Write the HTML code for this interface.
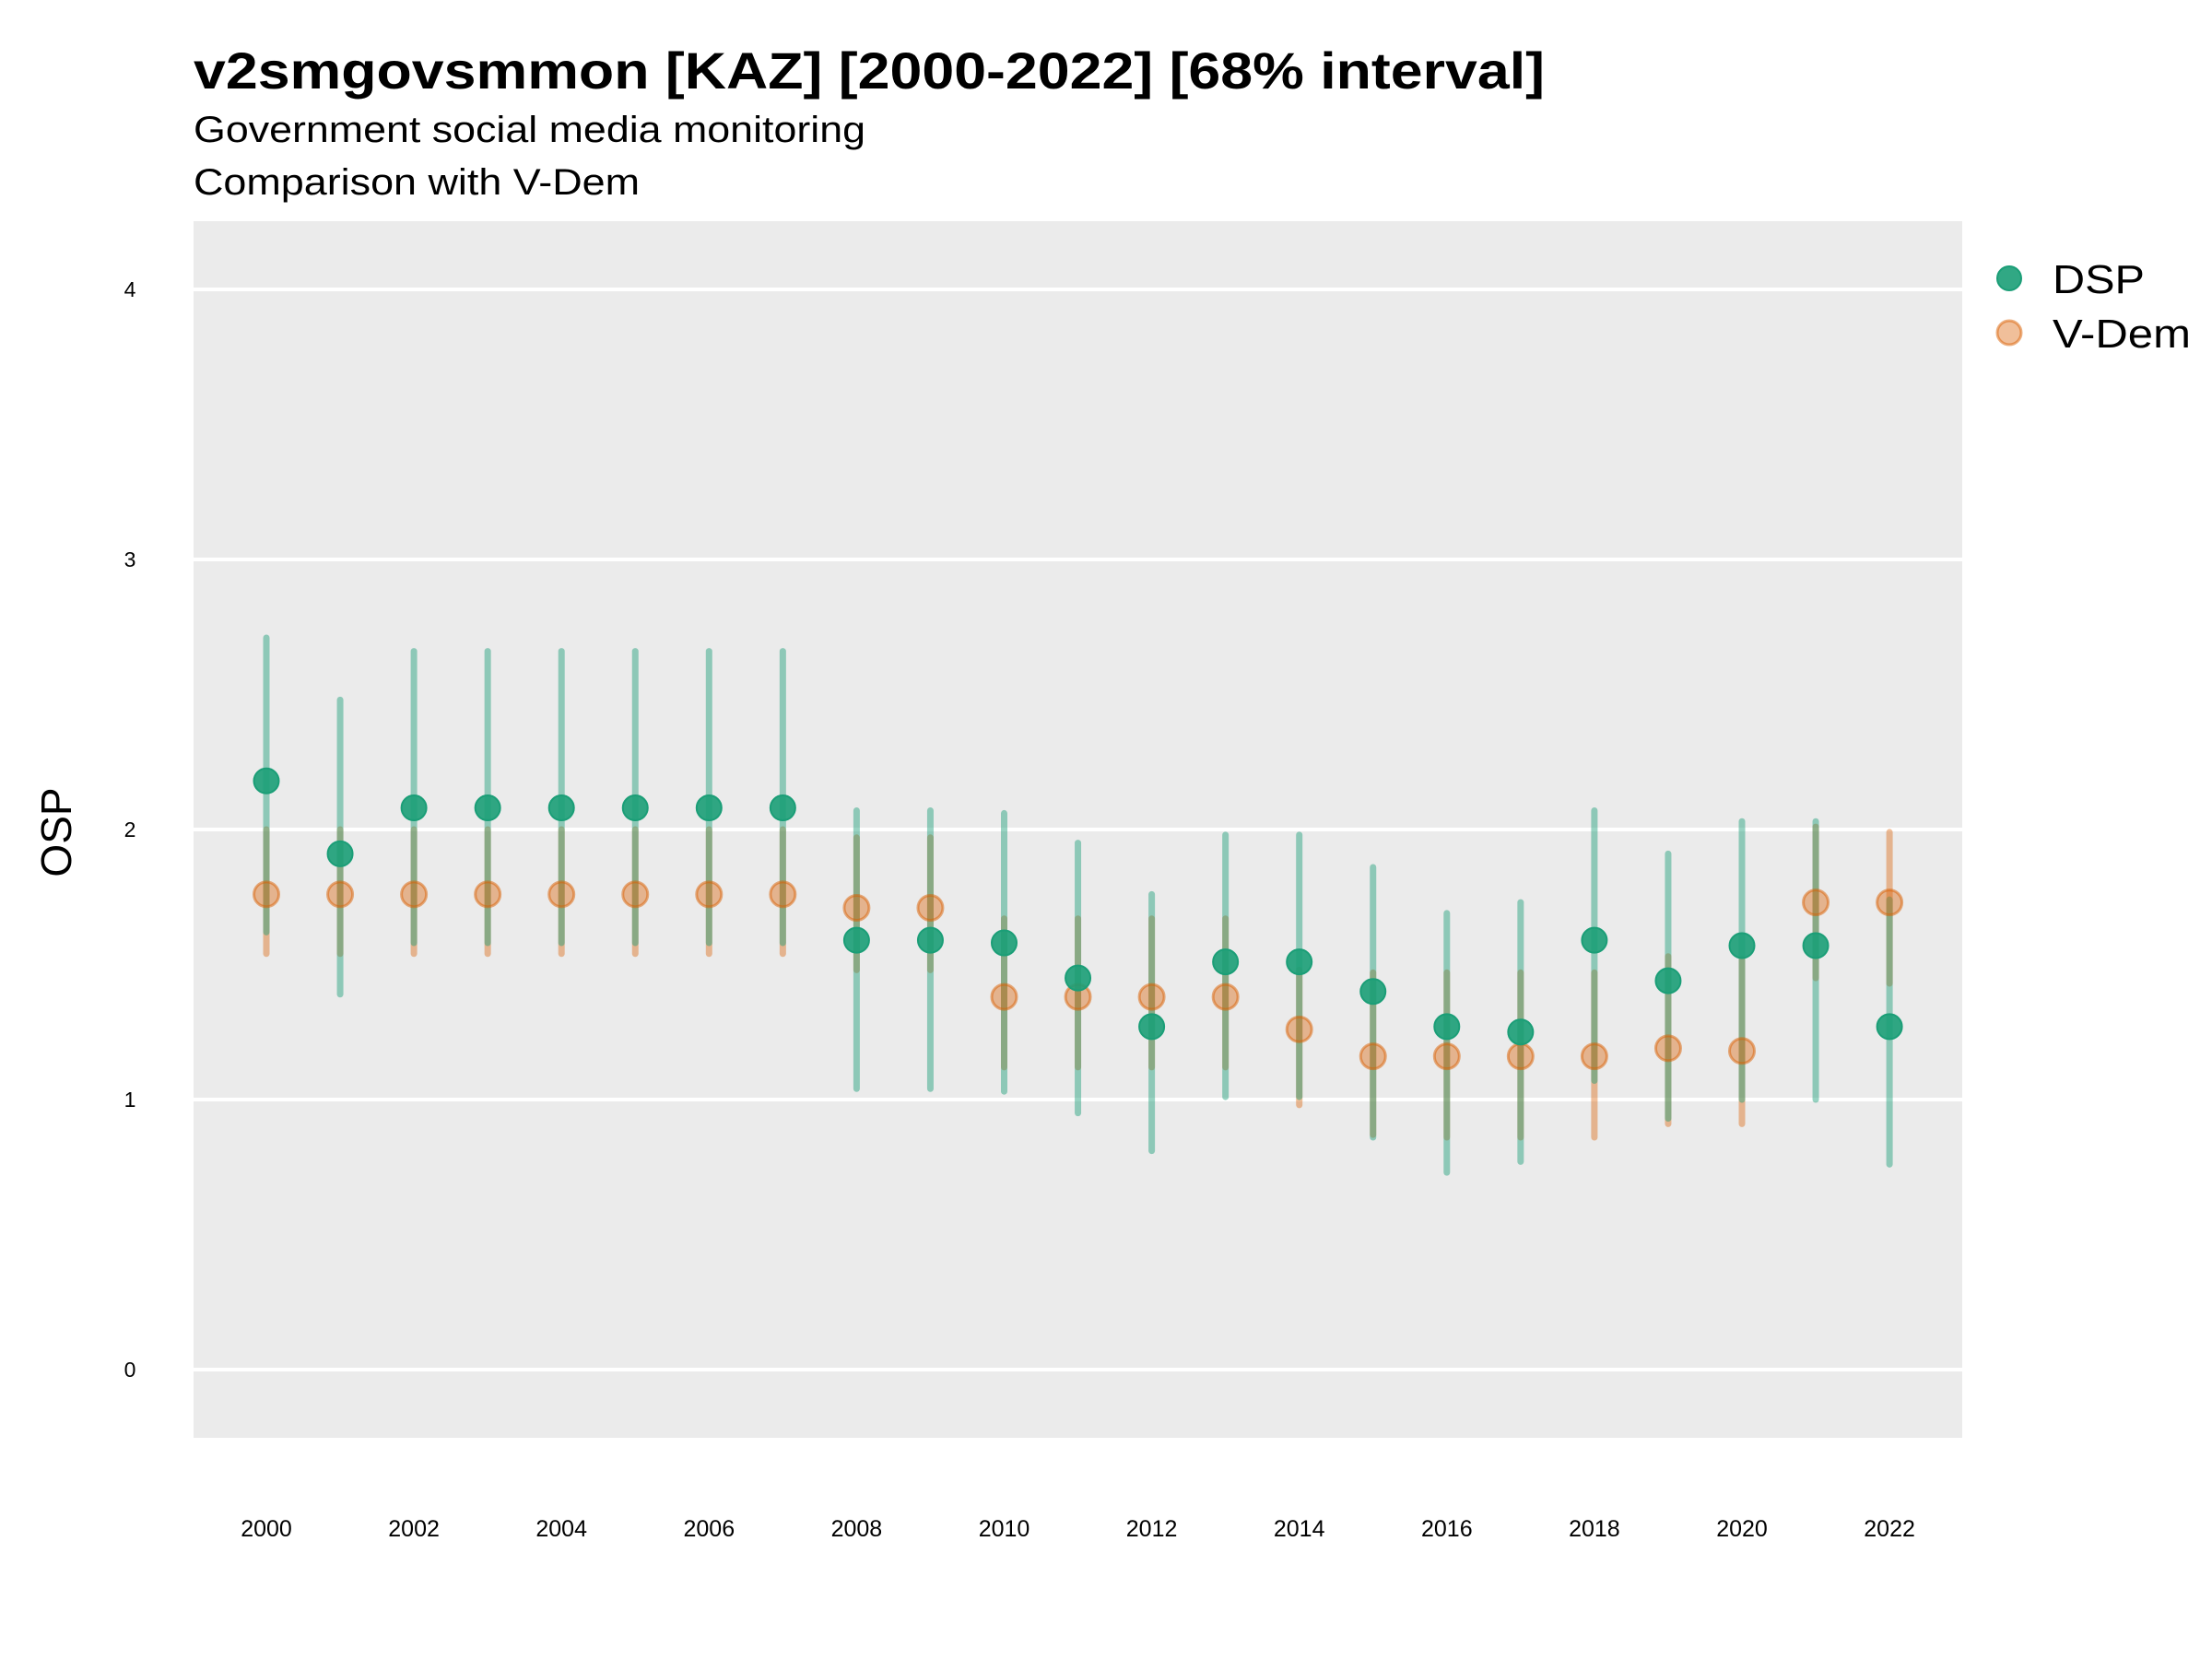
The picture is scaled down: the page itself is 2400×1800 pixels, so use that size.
<!DOCTYPE html>
<html><head><meta charset="utf-8"><style>
html,body{margin:0;padding:0;background:#fff;}
svg{display:block;font-family:"Liberation Sans",sans-serif;}
</style></head><body>
<svg id="s" width="2400" height="1800" viewBox="0 0 2400 1800" xmlns="http://www.w3.org/2000/svg">
<rect x="0" y="0" width="2400" height="1800" fill="#fff"/>
<text x="210" y="96" font-size="56" font-weight="bold" fill="#000" textLength="1466" lengthAdjust="spacingAndGlyphs">v2smgovsmmon [KAZ] [2000-2022] [68% interval]</text>
<text x="210" y="154" font-size="40" fill="#000" textLength="729" lengthAdjust="spacingAndGlyphs">Government social media monitoring</text>
<text x="210" y="211" font-size="40" fill="#000" textLength="484" lengthAdjust="spacingAndGlyphs">Comparison with V-Dem</text>
<rect x="210" y="240" width="1919" height="1320" fill="#ebebeb"/>
<g id="grid" stroke="#fff" stroke-width="4"></g>
<g id="ylab" font-size="23" fill="#000" text-anchor="middle"></g>
<g id="xlab" font-size="25" fill="#000" text-anchor="middle"></g>
<text x="0" y="0" font-size="46" text-anchor="middle" transform="translate(77,903) rotate(-90)">OSP</text>
<g id="data"></g>
<circle cx="2180" cy="302" r="13" fill="#1b9e77" fill-opacity="0.9" stroke="#1b9e77" stroke-width="2"/>
<text x="2227" y="318" font-size="44" textLength="100" lengthAdjust="spacingAndGlyphs">DSP</text>
<circle cx="2180" cy="361" r="13" fill="#d95f02" fill-opacity="0.4" stroke="#d95f02" stroke-opacity="0.5" stroke-width="3"/>
<text x="2227" y="377" font-size="44" textLength="150" lengthAdjust="spacingAndGlyphs">V-Dem</text>
</svg>
<script>
var NS="http://www.w3.org/2000/svg";
function Y(v){return 1486-293*v;}
function X(y){return 289+80.05*(y-2000);}
function el(p,t,a,txt){var e=document.createElementNS(NS,t);for(var k in a)e.setAttribute(k,a[k]);if(txt!==undefined)e.textContent=txt;document.getElementById(p).appendChild(e);}
for(var v=0;v<=4;v++){el("grid","line",{x1:210,x2:2129,y1:Y(v),y2:Y(v)});el("ylab","text",{x:141,y:Y(v)+8},String(v));}
for(var y=2000;y<=2022;y+=2){el("xlab","text",{x:X(y),y:1667},String(y));}
var dsp=[[2.18,2.71,1.62],[1.91,2.48,1.39],[2.08,2.66,1.58],[2.08,2.66,1.58],[2.08,2.66,1.58],[2.08,2.66,1.58],[2.08,2.66,1.58],[2.08,2.66,1.58],
[1.59,2.07,1.04],[1.59,2.07,1.04],[1.58,2.06,1.03],[1.45,1.95,0.95],[1.27,1.76,0.81],[1.51,1.98,1.01],[1.51,1.98,1.01],[1.40,1.86,0.86],[1.27,1.69,0.73],[1.25,1.73,0.77],[1.59,2.07,1.07],[1.44,1.91,0.93],[1.57,2.03,1.0],[1.57,2.03,1.0],[1.27,1.74,0.76]];
var vd=[[1.76,2.0,1.54],[1.76,2.0,1.54],[1.76,2.0,1.54],[1.76,2.0,1.54],[1.76,2.0,1.54],[1.76,2.0,1.54],[1.76,2.0,1.54],[1.76,2.0,1.54],
[1.71,1.97,1.48],[1.71,1.97,1.48],[1.38,1.67,1.12],[1.38,1.67,1.12],[1.38,1.67,1.12],[1.38,1.67,1.12],[1.26,1.48,0.98],[1.16,1.47,0.87],[1.16,1.47,0.86],[1.16,1.47,0.86],[1.16,1.47,0.86],[1.19,1.53,0.91],[1.18,1.52,0.91],[1.73,2.01,1.45],[1.73,1.99,1.43]];
for(var i=0;i<23;i++){var x=X(2000+i);
 el("data","line",{x1:x,x2:x,y1:Y(vd[i][1]),y2:Y(vd[i][2]),stroke:"#d95f02","stroke-opacity":0.4,"stroke-width":7,"stroke-linecap":"round"});
 el("data","line",{x1:x,x2:x,y1:Y(dsp[i][1]),y2:Y(dsp[i][2]),stroke:"#1b9e77","stroke-opacity":0.45,"stroke-width":7,"stroke-linecap":"round"});}
for(var i=0;i<23;i++){var x=X(2000+i);
 el("data","circle",{cx:x,cy:Y(vd[i][0]),r:13.5,fill:"#d95f02","fill-opacity":0.4,stroke:"#d95f02","stroke-opacity":0.5,"stroke-width":3});
 el("data","circle",{cx:x,cy:Y(dsp[i][0]),r:13.5,fill:"#1b9e77","fill-opacity":0.9,stroke:"#1b9e77","stroke-width":2});}
</script>
</body></html>
